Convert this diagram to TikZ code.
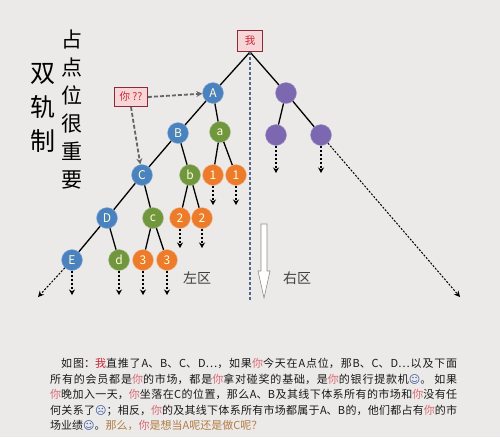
\documentclass[tikz,border=0pt]{standalone}
\usepackage{fontspec}
\usepackage{xcolor}
\usetikzlibrary{arrows.meta, positioning}
\setmainfont{Noto Sans CJK SC}
\newfontfamily\emofont{DejaVu Sans}
\XeTeXlinebreaklocale "zh"
\XeTeXlinebreakskip=0pt plus 2pt
\definecolor{paper}{RGB}{236, 234, 232}
\definecolor{nodeblue}{RGB}{74, 130, 192}
\definecolor{nodegreen}{RGB}{112, 150, 62}
\definecolor{nodeorange}{RGB}{236, 124, 44}
\definecolor{nodepurple}{RGB}{124, 104, 176}
\definecolor{tagfill}{RGB}{246, 214, 214}
\definecolor{tagdraw}{RGB}{140, 40, 55}
\definecolor{tagtext}{RGB}{200, 40, 55}
\definecolor{youred}{RGB}{214, 104, 116}
\definecolor{hintbrown}{RGB}{178, 124, 70}
\definecolor{emoblue}{RGB}{60, 90, 160}
\definecolor{divider}{RGB}{84, 102, 140}
\newcommand{\hlyou}[1]{\textcolor{youred}{#1}}
\newcommand{\face}[1]{{\emofont\color{emoblue}#1}}

\begin{document}
\begin{tikzpicture}[x=1pt, y=-1pt,
        ball/.style={circle, minimum size=21pt, inner sep=0pt, text=white!85!yellow, font=\fontsize{12}{12}\selectfont},
        tag/.style={rectangle, draw=tagdraw, fill=tagfill, line width=1pt, text=tagtext, inner sep=0pt, font=\fontsize{10.5}{10.5}\selectfont},
        link/.style={line width=1.3pt},
        down/.style={-{Stealth[length=5.5pt, width=6pt]}, dash pattern=on 2.5pt off 1.5pt, line width=1.3pt},
        far/.style={-{Stealth[length=6pt, width=6pt]}, dash pattern=on 2pt off 1.5pt, line width=1pt},
        hint/.style={-{Stealth[length=6pt, width=6pt]}, draw=black!60, dash pattern=on 4pt off 2pt, line width=1.8pt},
        zone/.style={text=black!75, font=\fontsize{14}{14}\selectfont}
    ]
    \useasboundingbox (0,0) rectangle (500,437);
    \fill[paper] (0,0) rectangle (500,437);

    % titles
    \node[align=center, font=\fontsize{25}{34}\selectfont] (title) at (43,108) {双\\轨\\制};
    \node[align=center, font=\fontsize{21}{28}\selectfont] (motto) at (72,110) {占\\点\\位\\很\\重\\要};

    % top and helper boxes
    \node[tag, minimum width=25pt, minimum height=21pt] (me) at (250,41) {我};
    \node[tag, minimum width=33pt, minimum height=19pt] (newbie) at (131,97) {你 ??};

    % left market
    \node[ball, fill=nodeblue, draw=nodeblue!60!white] (A) at (213,93) {A};
    \node[ball, fill=nodeblue, draw=nodeblue!60!white] (B) at (178,133) {B};
    \node[ball, fill=nodeblue, draw=nodeblue!60!white] (C) at (142,175) {C};
    \node[ball, fill=nodeblue, draw=nodeblue!60!white] (D) at (107,218) {D};
    \node[ball, fill=nodeblue, draw=nodeblue!60!white] (E) at (72,260) {E};
    \node[ball, fill=nodegreen, draw=nodegreen!60!white] (a) at (220,132) {a};
    \node[ball, fill=nodegreen, draw=nodegreen!60!white] (b) at (190,175) {b};
    \node[ball, fill=nodegreen, draw=nodegreen!60!white] (c) at (153,218) {c};
    \node[ball, fill=nodegreen, draw=nodegreen!60!white] (d) at (119,260) {d};
    \node[ball, fill=nodeorange, draw=nodeorange!50!white] (one1) at (213,175) {1};
    \node[ball, fill=nodeorange, draw=nodeorange!50!white] (one2) at (236,175) {1};
    \node[ball, fill=nodeorange, draw=nodeorange!50!white] (two1) at (180,218) {2};
    \node[ball, fill=nodeorange, draw=nodeorange!50!white] (two2) at (202,218) {2};
    \node[ball, fill=nodeorange, draw=nodeorange!50!white] (three1) at (143,260) {3};
    \node[ball, fill=nodeorange, draw=nodeorange!50!white] (three2) at (167,260) {3};

    % right market
    \node[ball, fill=nodepurple, draw=nodepurple!70!white] (P) at (286,93) {};
    \node[ball, fill=nodepurple, draw=nodepurple!70!white] (P1) at (276,135) {};
    \node[ball, fill=nodepurple, draw=nodepurple!70!white] (P2) at (321,135) {};

    % arrow ends
    \coordinate (eL) at (38,297);
    \coordinate (eE) at (72,295);
    \coordinate (ed) at (119,295);
    \coordinate (e31) at (143,295);
    \coordinate (e32) at (167,295);
    \coordinate (e21) at (180,248);
    \coordinate (e22) at (202,248);
    \coordinate (e11) at (213,205);
    \coordinate (e12) at (236,205);
    \coordinate (eP1) at (276,173);
    \coordinate (eP2) at (321,173);
    \coordinate (eR) at (460,297);
    \coordinate (split) at (250,300);

    \draw[link] (me.south) -- (A) -- (B) -- (C) -- (D) -- (E);
    \draw[link] (A) -- (a);
    \draw[link] (a) -- (one1);
    \draw[link] (a) -- (one2);
    \draw[link] (B) -- (b);
    \draw[link] (b) -- (two1);
    \draw[link] (b) -- (two2);
    \draw[link] (C) -- (c);
    \draw[link] (c) -- (three1);
    \draw[link] (c) -- (three2);
    \draw[link] (D) -- (d);
    \draw[link] (me.south) -- (P);
    \draw[link] (P) -- (P1);
    \draw[link] (P) -- (P2);

    \draw[far] (E) -- (eL);
    \draw[down] (E) -- (eE);
    \draw[down] (d) -- (ed);
    \draw[down] (three1) -- (e31);
    \draw[down] (three2) -- (e32);
    \draw[down] (two1) -- (e21);
    \draw[down] (two2) -- (e22);
    \draw[down] (one1) -- (e11);
    \draw[down] (one2) -- (e12);
    \draw[down] (P1) -- (eP1);
    \draw[down] (P2) -- (eP2);
    \draw[far] (P2) -- (eR);

    \draw[hint] (newbie.east) -- (A);
    \draw[hint] (newbie.south) -- (C);

    % dividing line and growth arrow
    \draw[divider, dash pattern=on 3pt off 2pt, line width=1.2pt] (me.south) -- (split);
    \draw[black!45, fill=white, line width=0.6pt] (261,224) -- (267,224) -- (267,271) -- (270,271) -- (264,298) -- (258,271) -- (261,271) -- cycle;
    \node[zone] (leftzone) at (197,278) {左区};
    \node[zone] (rightzone) at (297,278) {右区};

    % story
    \node[anchor=north west, inner sep=0pt, text width=407pt, align=justify, text=black!90, font=\fontsize{11}{15.5}\selectfont] (story) at (50,358) {\hspace*{1em}如图：\textcolor{tagtext}{我}直推了A、B、C、D…，如果\hlyou{你}今天在A点位，那B、C、D…以及下面\linebreak
所有的会员都是\hlyou{你}的市场，都是\hlyou{你}拿对碰奖的基础，是\hlyou{你}的银行提款机\face{☺}。 如果\linebreak
\hlyou{你}晚加入一天，\hlyou{你}坐落在C的位置，那么A、B及其线下体系所有的市场和\hlyou{你}没有任\linebreak
何关系了\face{☹}；相反，\hlyou{你}的及其线下体系所有市场都属于A、B的，他们都占有\hlyou{你}的市\linebreak
场业绩\face{☺}。\textcolor{hintbrown}{那么，}\hlyou{你}\textcolor{hintbrown}{是想当A呢还是做C呢？}};
\end{tikzpicture}
\end{document}
